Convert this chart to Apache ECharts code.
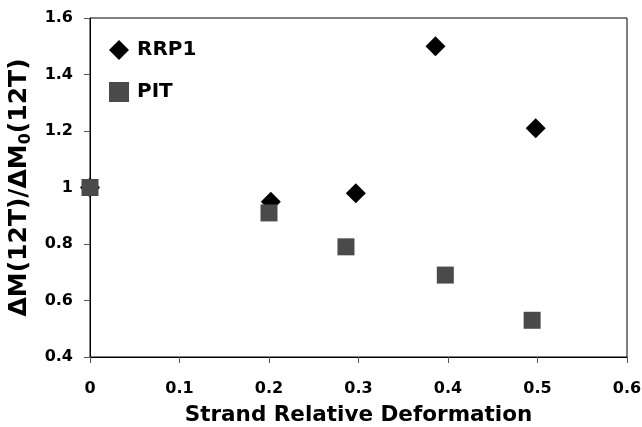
<!DOCTYPE html>
<html>
<head>
<meta charset="utf-8">
<script src="https://cdn.jsdelivr.net/npm/echarts@6/dist/echarts.min.js"></script>
<style>html,body{margin:0;padding:0;background:#fff}#c{width:642px;height:427px}</style>
</head>
<body>
<div id="c"></div>
<script>
var rrp1X = [0, 0.202, 0.297, 0.386, 0.498];
var rrp1Y = [1.0, 0.95, 0.98, 1.50, 1.21];
var pitX = [0, 0.200, 0.286, 0.397, 0.494];
var pitY = [1.0, 0.91, 0.79, 0.69, 0.53];
var seriesNames = ['RRP1', 'PIT'];
var xTitle = 'Strand Relative Deformation';

function pairs(xs, ys) { return xs.map(function (x, i) { return [x, ys[i]]; }); }

var chart = echarts.init(document.getElementById('c'));
var font = '"DejaVu Sans", sans-serif';
chart.setOption({
  animation: false,
  backgroundColor: '#fff',
  grid: { left: 90, right: 15, top: 18, bottom: 70, show: true, borderColor: '#000', borderWidth: 1,
          outerBoundsMode: 'none', containLabel: false },
  legend: {
    orient: 'vertical', left: 104, top: 35, itemGap: 22, itemWidth: 20, itemHeight: 20,
    textStyle: { fontFamily: font, fontWeight: 'bold', fontSize: 20, lineHeight: 20, color: '#000', padding: [0, 0, 0, 3] },
    data: [{ name: seriesNames[0], icon: 'diamond' }, { name: seriesNames[1], icon: 'rect', itemStyle: { color: '#4a4a4a' } }]
  },
  xAxis: {
    type: 'value', min: 0, max: 0.6, interval: 0.1,
    axisLine: { lineStyle: { color: '#000', width: 1 } },
    axisTick: { show: true, length: 6, lineStyle: { color: '#555' } },
    splitLine: { show: false },
    axisLabel: { fontFamily: font, fontWeight: 'bold', fontSize: 16, color: '#000', margin: 24,
      formatter: function (v) { return String(Math.round(v * 10) / 10); } },
    name: xTitle, nameLocation: 'middle', nameGap: 47,
    nameTextStyle: { fontFamily: font, fontWeight: 'bold', fontSize: 21.5, color: '#000' }
  },
  yAxis: {
    type: 'value', min: 0.4, max: 1.6, interval: 0.2,
    axisLine: { show: true, lineStyle: { color: '#000', width: 1 } },
    axisTick: { show: true, length: 6, lineStyle: { color: '#555' } },
    splitLine: { show: false },
    axisLabel: { fontFamily: font, fontWeight: 'bold', fontSize: 16, color: '#000', margin: 17,
      formatter: function (v) { return String(Math.round(v * 10) / 10); } },
    name: '{a|ΔM(12T)/ΔM}{s|0}{a|(12T)}', nameLocation: 'middle', nameGap: 55,
    nameTextStyle: { fontFamily: font, fontWeight: 'bold', fontSize: 25, color: '#000',
      rich: {
        a: { fontFamily: font, fontWeight: 'bold', fontSize: 25, color: '#000', lineHeight: 28 },
        s: { fontFamily: font, fontWeight: 'bold', fontSize: 16, color: '#000', verticalAlign: 'bottom', lineHeight: 28 }
      } }
  },
  series: [
    { name: seriesNames[0], type: 'scatter', symbol: 'diamond', symbolSize: 20,
      itemStyle: { color: '#000', opacity: 1 }, data: pairs(rrp1X, rrp1Y), z: 2 },
    { name: seriesNames[1], type: 'scatter', symbol: 'rect', symbolSize: 17,
      itemStyle: { color: '#4a4a4a', opacity: 1 }, data: pairs(pitX, pitY), z: 3 }
  ]
});
</script>
</body>
</html>
